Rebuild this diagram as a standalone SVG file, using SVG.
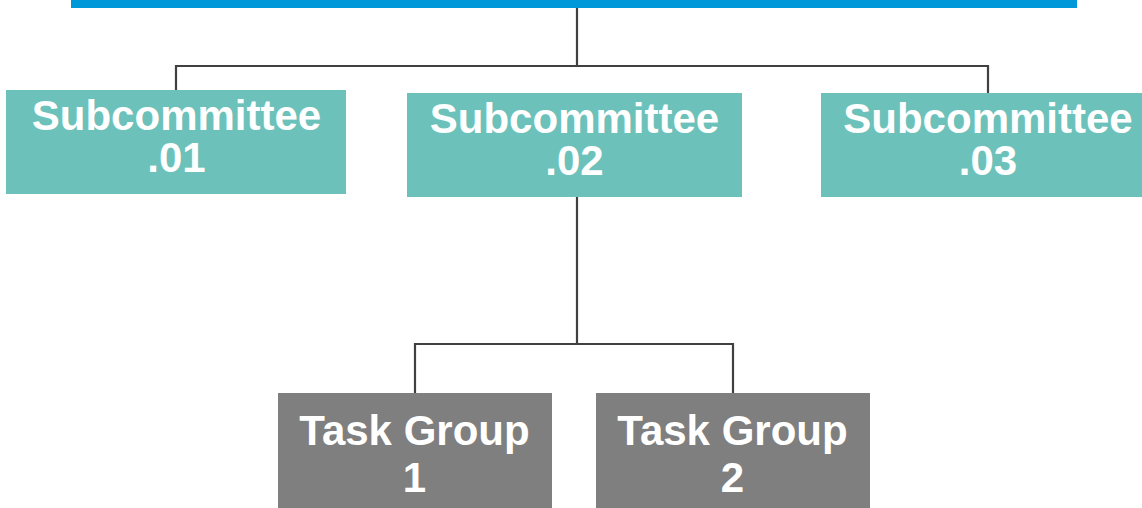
<svg xmlns="http://www.w3.org/2000/svg" width="1142" height="508" viewBox="0 0 1142 508">
<style>
.sub{fill:#6CC2BB}
.tg{fill:#7F7F7F}
.lbl{font-family:"Liberation Sans",Arial,sans-serif;font-weight:bold;font-size:42px;fill:#FFFFFF;text-anchor:middle}
.con{fill:none;stroke:#404040;stroke-width:2.2}
</style>
<rect width="1142" height="508" fill="#FFFFFF"/>
<g id="connectors">
<path class="con" d="M577,8 V66 M176,90 V66 H988 V93"/>
<path class="con" d="M577,197 V344 M415,393 V344 H733 V393"/>
</g>
<g id="top">
<rect x="71" y="0" width="1006" height="8" fill="#0098D8"/>
</g>
<g id="sub01">
<rect class="sub" x="6" y="90" width="340" height="104"/>
<text class="lbl" x="176.5" y="130">Subcommittee</text>
<text class="lbl" x="176.5" y="172">.01</text>
</g>
<g id="sub02">
<rect class="sub" x="407" y="93" width="335" height="104"/>
<text class="lbl" x="574.5" y="133">Subcommittee</text>
<text class="lbl" x="574.5" y="175">.02</text>
</g>
<g id="sub03">
<rect class="sub" x="821" y="93" width="321" height="104"/>
<text class="lbl" x="988" y="133">Subcommittee</text>
<text class="lbl" x="988" y="175">.03</text>
</g>
<g id="tg1">
<rect class="tg" x="278" y="393" width="274" height="115"/>
<text class="lbl" x="414.5" y="445">Task Group</text>
<text class="lbl" x="414.5" y="492">1</text>
</g>
<g id="tg2">
<rect class="tg" x="596" y="393" width="274" height="115"/>
<text class="lbl" x="732.5" y="445">Task Group</text>
<text class="lbl" x="732.5" y="492">2</text>
</g>
</svg>
